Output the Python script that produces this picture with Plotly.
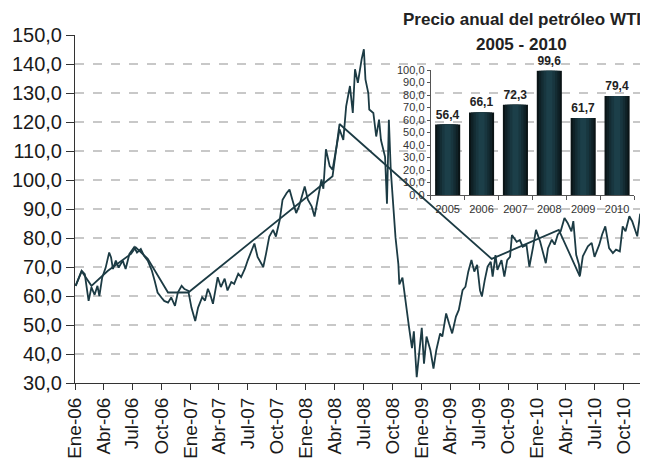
import plotly.graph_objects as go

# ---------------- data ----------------
daily_dates = [
    "2006-01-03","2006-01-13","2006-01-22","2006-02-01","2006-02-13","2006-02-22","2006-03-04","2006-03-13",
    "2006-03-19","2006-03-28","2006-04-08","2006-04-19","2006-04-25","2006-05-01","2006-05-10","2006-05-19",
    "2006-06-01","2006-06-10","2006-06-22","2006-07-07","2006-07-16","2006-07-28","2006-08-07","2006-08-19",
    "2006-09-01","2006-09-10","2006-09-19","2006-10-01","2006-10-10","2006-10-22","2006-11-01","2006-11-13",
    "2006-11-22","2006-12-04","2006-12-13","2006-12-25","2007-01-04","2007-01-16","2007-01-25","2007-02-07",
    "2007-02-16","2007-02-25","2007-03-04","2007-03-13","2007-03-28","2007-04-07","2007-04-19","2007-04-28",
    "2007-05-10","2007-05-19","2007-06-01","2007-06-10","2007-06-22","2007-07-01","2007-07-10","2007-07-22",
    "2007-08-01","2007-08-13","2007-08-19","2007-08-28","2007-09-07","2007-09-19","2007-09-28","2007-10-10",
    "2007-10-19","2007-11-01","2007-11-10","2007-11-19","2007-12-01","2007-12-10","2007-12-28","2008-01-07",
    "2008-01-19","2008-01-28","2008-02-10","2008-02-19","2008-02-25","2008-03-04","2008-03-16","2008-03-25",
    "2008-04-07","2008-04-16","2008-04-28","2008-05-07","2008-05-19","2008-05-28","2008-06-04","2008-06-13",
    "2008-06-25","2008-07-02","2008-07-07","2008-07-16","2008-07-19","2008-08-01","2008-08-10","2008-08-19",
    "2008-08-25","2008-09-07","2008-09-13","2008-09-19","2008-09-25","2008-10-04","2008-10-10","2008-10-19",
    "2008-10-22","2008-11-01","2008-11-10","2008-11-16","2008-11-22","2008-12-01","2008-12-07","2008-12-16",
    "2008-12-25","2009-01-01","2009-01-08","2009-01-16","2009-01-28","2009-02-07","2009-02-16","2009-02-28",
    "2009-03-07","2009-03-19","2009-03-28","2009-04-07","2009-04-19","2009-04-28","2009-05-10","2009-05-19",
    "2009-05-28","2009-06-07","2009-06-16","2009-06-25","2009-07-04","2009-07-10","2009-07-19","2009-07-28",
    "2009-08-07","2009-08-13","2009-08-22","2009-08-28","2009-09-10","2009-09-19","2009-09-28","2009-10-07",
    "2009-10-13","2009-10-28","2009-11-07","2009-11-16","2009-11-28","2009-12-07","2009-12-19","2009-12-28",
    "2010-01-10","2010-01-19","2010-01-28","2010-02-04","2010-02-16","2010-02-25","2010-03-07","2010-03-16",
    "2010-03-28","2010-04-07","2010-04-19","2010-04-25","2010-05-04","2010-05-13","2010-05-16","2010-05-25",
    "2010-06-10","2010-06-22","2010-07-01","2010-07-16","2010-07-25","2010-08-04","2010-08-16","2010-08-28",
    "2010-09-07","2010-09-19","2010-09-28","2010-10-07","2010-10-19","2010-10-28","2010-11-13","2010-11-22",
    "2010-12-01","2010-12-10",
]
daily_prices = [
    63.5, 66.0, 68.7, 67.5, 58.3, 63.0, 60.4, 63.5,
    60.0, 66.4, 69.8, 75.0, 73.3, 69.3, 72.2, 69.8,
    72.2, 69.3, 74.5, 76.8, 75.0, 76.2, 73.9, 72.2,
    68.7, 65.2, 61.2, 59.5, 58.3, 57.7, 59.5, 56.6,
    61.2, 63.5, 62.4, 61.8, 56.0, 51.4, 56.0, 59.6,
    58.4, 62.5, 60.7, 57.3, 66.5, 63.1, 66.0, 61.9,
    64.8, 64.2, 67.7, 66.5, 69.4, 72.3, 74.7, 78.1,
    73.5, 71.2, 70.0, 74.7, 80.5, 82.8, 80.5, 86.2,
    93.2, 95.5, 96.7, 93.2, 88.6, 90.9, 97.8, 93.2,
    90.9, 87.4, 94.4, 100.2, 97.0, 110.6, 104.8, 103.6,
    111.7, 117.5, 113.8, 125.4, 132.4, 123.1, 138.2, 133.5,
    141.7, 145.1, 134.7, 130.0, 124.3, 123.1, 115.0, 120.8,
    113.8, 108.0, 91.8, 120.8, 103.4, 89.5, 80.2, 71.0,
    64.0, 66.3, 58.2, 53.6, 49.0, 42.0, 47.8, 32.0,
    40.8, 49.0, 36.7, 46.0, 41.4, 35.0, 41.4, 47.1,
    46.0, 54.0, 50.6, 47.1, 52.9, 55.2, 62.0, 63.2,
    68.4, 72.4, 68.4, 70.7, 62.0, 59.8, 65.5, 70.1,
    71.8, 66.7, 74.1, 69.0, 72.4, 66.7, 72.4, 73.5,
    81.0, 78.7, 79.3, 77.0, 77.6, 70.1, 77.0, 82.8,
    78.8, 74.8, 71.3, 76.5, 79.4, 77.7, 81.2, 82.3,
    86.9, 85.2, 82.3, 85.8, 74.2, 70.8, 67.0, 73.7,
    77.1, 78.3, 73.5, 77.7, 81.2, 84.0, 76.5, 74.8,
    76.0, 75.4, 84.0, 82.3, 87.5, 85.8, 80.6, 88.1,
    89.2, 91.0,
]

link_dates = ["2006-01-03","2006-01-22","2006-02-22","2006-04-15","2006-06-27","2006-07-12","2006-08-19",
              "2006-10-22","2006-12-25","2008-03-25","2008-04-16","2009-08-10","2010-03-10","2010-05-16"]
link_prices = [63.5, 68.5, 63.5, 68.7, 74.5, 76.8, 72.8, 61.2, 61.2, 101.3, 119.3, 72.8, 82.8, 66.7]

years = ["2005", "2006", "2007", "2008", "2009", "2010"]
annual_prices = [56.4, 66.1, 72.3, 99.6, 61.7, 79.4]

tick_dates = ["2006-01-01","2006-04-01","2006-07-01","2006-10-01","2007-01-01","2007-04-01","2007-07-01",
              "2007-10-01","2008-01-01","2008-04-01","2008-07-01","2008-10-01","2009-01-01","2009-04-01",
              "2009-07-01","2009-10-01","2010-01-01","2010-04-01","2010-07-01","2010-10-01"]
tick_labels = ["Ene-06","Abr-06","Jul-06","Oct-06","Ene-07","Abr-07","Jul-07","Oct-07","Ene-08","Abr-08",
               "Jul-08","Oct-08","Ene-09","Abr-09","Jul-09","Oct-09","Ene-10","Abr-10","Jul-10","Oct-10"]

title_line1 = "Precio anual del petróleo WTI"
title_line2 = "2005 - 2010"

# ---------------- styling ----------------
LINE = "#1c3b44"
FONT = "Liberation Sans, Arial, sans-serif"
TXT = "#1a1a1a"

fig = go.Figure()

fig.add_trace(go.Scatter(x=daily_dates, y=daily_prices, mode="lines",
                         line=dict(color=LINE, width=1.8), xaxis="x", yaxis="y",
                         showlegend=False, hoverinfo="skip"))
fig.add_trace(go.Scatter(x=link_dates, y=link_prices, mode="lines",
                         line=dict(color=LINE, width=1.8), xaxis="x", yaxis="y",
                         showlegend=False, hoverinfo="skip"))

# gradient-like bars: overlaid bars of decreasing width, lighter toward centre
shades = [(0.74, "#0a1416"), (0.62, "#0f2126"), (0.48, "#142c33"), (0.34, "#18363f"), (0.18, "#1c3f49")]
for i, (w, c) in enumerate(shades):
    fig.add_trace(go.Bar(
        x=years, y=annual_prices, width=w, marker=dict(color=c, line=dict(width=0)),
        xaxis="x2", yaxis="y2", showlegend=False, hoverinfo="skip",
        text=[f"{v:.1f}".replace(".", ",") for v in annual_prices] if i == 0 else None,
        textposition="outside" if i == 0 else "none",
        textfont=dict(family=FONT, size=12, color="#222222", weight="bold"),
        cliponaxis=False,
    ))

# page body has an 8px margin, so the figure is offset by 8px; margins compensate
fig.update_layout(
    width=648, height=460,
    margin=dict(l=67, r=8, t=27, b=85),
    paper_bgcolor="white", plot_bgcolor="rgba(0,0,0,0)",
    separators=",.",
    barmode="overlay",
    font=dict(family=FONT, color=TXT),
    xaxis=dict(
        type="date", range=["2006-01-01", "2010-12-17"],
        tickvals=tick_dates, ticktext=tick_labels, tickangle=-90,
        tickfont=dict(size=19, color=TXT),
        ticks="outside", ticklen=6, tickcolor="#333333",
        showline=True, linecolor="#333333", linewidth=1,
        showgrid=False, zeroline=False, domain=[0, 1], automargin=False,
    ),
    yaxis=dict(
        range=[30, 150], dtick=10, tickformat=".1f",
        tickfont=dict(size=20, color=TXT),
        ticks="outside", ticklen=8, tickcolor="#333333",
        showline=True, linecolor="#333333", linewidth=1,
        showgrid=True, gridcolor="#c8c8c8", gridwidth=1.5, griddash="dash",
        zeroline=False, domain=[0, 1], automargin=False,
    ),
    xaxis2=dict(
        domain=[0.6208, 0.9756], anchor="y2", type="category", tickangle=0,
        tickfont=dict(size=11, color="#333333"), ticklabelstandoff=4,
        ticks="outside", tickson="boundaries", ticklen=4, tickcolor="#555555",
        showline=True, linecolor="#555555", linewidth=1, showgrid=False, automargin=False,
    ),
    yaxis2=dict(
        domain=[0.540, 0.899], anchor="x2", range=[0, 100], dtick=10, tickformat=".1f",
        tickfont=dict(size=11, color="#333333"),
        ticks="outside", ticklen=3, tickcolor="#555555",
        showline=True, linecolor="#555555", linewidth=1, showgrid=False, zeroline=False,
        automargin=False,
    ),
    annotations=[
        dict(text=f"<b>{title_line1}</b>", xref="paper", yref="paper", x=0.78, y=(383 - 20) / 348,
             xanchor="center", yanchor="middle", showarrow=False,
             font=dict(family=FONT, size=17, color="#222222")),
        dict(text=f"<b>{title_line2}</b>", xref="paper", yref="paper", x=0.78, y=(383 - 44) / 348,
             xanchor="center", yanchor="middle", showarrow=False,
             font=dict(family=FONT, size=17, color="#222222")),
    ],
)

fig.write_html("out.html")
